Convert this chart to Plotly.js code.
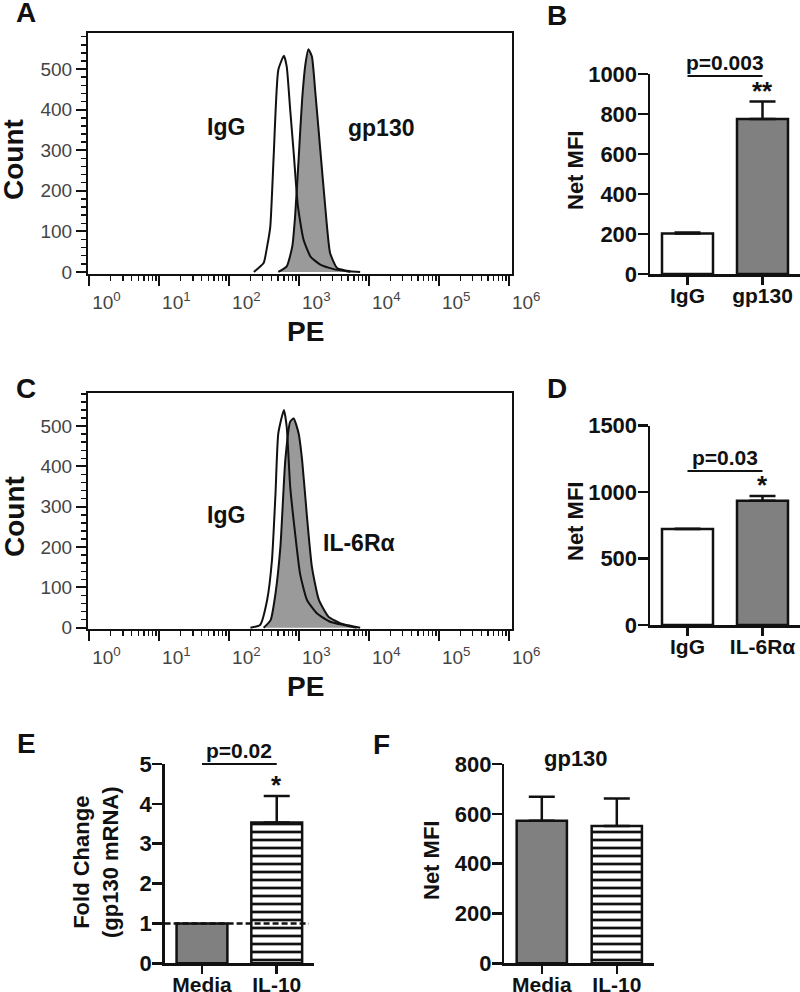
<!DOCTYPE html>
<html>
<head>
<meta charset="utf-8">
<script src="https://cdn.plot.ly/plotly-3.0.1.min.js"></script>
<style>html,body{margin:0;padding:0;background:#fff}#chart{width:800px;height:992px}</style>
</head>
<body>
<div id="chart"></div>
<script>
// ---------- data ----------
const peTickVals = [1, 10, 100, 1000, 10000, 100000, 1000000];
const peTickText = ['10<sup>0</sup>','10<sup>1</sup>','10<sup>2</sup>','10<sup>3</sup>','10<sup>4</sup>','10<sup>5</sup>','10<sup>6</sup>'];

// Panel A histograms (PE intensity, count)
const histA_IgG_pe    = [224, 309, 347, 385, 430, 501, 603, 661, 741, 832, 955, 1148, 1445, 1995, 3090, 5370];
const histA_IgG_count = [0, 22, 63, 112, 285, 498, 533, 506, 400, 293, 162, 80, 38, 18, 7, 0];
const histA_gp130_pe    = [501, 661, 794, 871, 977, 1096, 1230, 1349, 1514, 1698, 1995, 2344, 2754, 3467, 5370, 7413];
const histA_gp130_count = [0, 14, 63, 137, 277, 424, 515, 549, 531, 441, 301, 162, 47, 10, 2, 0];

// Panel C histograms
const histC_IgG_pe    = [200, 275, 347, 407, 457, 501, 603, 661, 741, 871, 1023, 1288, 1778, 2754, 4266, 6607];
const histC_IgG_count = [0, 7, 69, 168, 333, 482, 540, 498, 350, 234, 135, 69, 36, 15, 7, 0];
const histC_IL6_pe    = [309, 389, 457, 537, 631, 741, 832, 977, 1096, 1288, 1514, 1905, 2630, 3890, 5370, 7413];
const histC_IL6_count = [0, 19, 85, 201, 416, 511, 519, 482, 416, 275, 151, 69, 27, 11, 5, 0];

// Bar panels
const barB_cats = ['IgG', 'gp130'];
const barB_vals = [203, 775];
const barB_err  = [5, 87];

const barD_cats = ['IgG', 'IL-6Rα'];
const barD_vals = [722, 935];
const barD_err  = [3, 36];

const barE_cats = ['Media', 'IL-10'];
const barE_vals = [1.0, 3.53];
const barE_err  = [0, 0.67];

const barF_cats = ['Media', 'IL-10'];
const barF_vals = [572, 551];
const barF_err  = [97, 111];

const sigB = {text: 'p=0.003', y: 990, star: '**'};
const sigD = {text: 'p=0.03',  y: 1159, star: '*'};
const sigE = {text: 'p=0.02',  y: 5.0, star: '*'};
const refLineE = 1;

// ---------- helpers ----------
const W = 800, H = 992;
const FONT = 'Liberation Sans, Arial, Helvetica, sans-serif';
const xd = (a, b) => [a / W, b / W];
const yd = (top, bottom) => [1 - bottom / H, 1 - top / H];
const px = (x) => x / W;
const py = (y) => 1 - y / H;

function histX(domain, anchor) {
  return {
    domain: domain, anchor: anchor, type: 'log', range: [-0.02, 6.04],
    tickmode: 'array', tickvals: peTickVals, ticktext: peTickText,
    ticks: 'outside', ticklen: 10, tickwidth: 2, tickcolor: '#111',
    showline: true, linewidth: 2, linecolor: '#111', mirror: true,
    showgrid: false, zeroline: false, ticklabelshift: 17,
    tickfont: {family: FONT, size: 19, color: '#444'},
    minor: {ticks: 'outside', ticklen: 5, tickwidth: 1.5, tickcolor: '#111', dtick: 'D1', showgrid: false}
  };
}
function histY(domain, range, anchor) {
  return {
    domain: domain, anchor: anchor, range: range, tickmode: 'linear', tick0: 0, dtick: 100,
    ticks: 'outside', ticklen: 10, tickwidth: 2, tickcolor: '#111',
    showline: true, linewidth: 2, linecolor: '#111', mirror: true,
    showgrid: false, zeroline: false,
    tickfont: {family: FONT, size: 19, color: '#444'},
    minor: {ticks: 'outside', ticklen: 5, tickwidth: 1.5, tickcolor: '#111', dtick: 20, showgrid: false}
  };
}
function barX(domain, anchor) {
  return {
    domain: domain, anchor: anchor, type: 'category', range: [-0.5, 1.5],
    ticks: 'outside', ticklen: 8, tickwidth: 2.5, tickcolor: '#111',
    showline: true, linewidth: 2.5, linecolor: '#111',
    showgrid: false, zeroline: false, ticklabelstandoff: -7,
    tickfont: {family: FONT, size: 21, color: '#111', weight: 'bold'}
  };
}
function barY(domain, range, dtick, anchor) {
  return {
    domain: domain, anchor: anchor, range: range, tickmode: 'linear', tick0: 0, dtick: dtick,
    ticks: 'outside', ticklen: 10, tickwidth: 2.5, tickcolor: '#111',
    showline: true, linewidth: 2.5, linecolor: '#111',
    showgrid: false, zeroline: false, ticklabelstandoff: -4,
    tickfont: {family: FONT, size: 22, color: '#111', weight: 'bold'}
  };
}

function histTrace(xs, ys, filled, xa, ya) {
  return {
    type: 'scatter', mode: 'lines', x: xs, y: ys, xaxis: xa, yaxis: ya,
    line: {color: '#111', width: 2, shape: 'spline', smoothing: 0.5},
    fill: filled ? 'tozeroy' : 'none', fillcolor: '#9a9a9a',
    hoverinfo: 'skip', showlegend: false
  };
}
// one trace per bar so each can carry its own fill / pattern
function barTraces(cats, vals, errs, colors, patterns, xa, ya, width) {
  return cats.map((c, i) => {
    const t = {
      type: 'bar', x: [c], y: [vals[i]], xaxis: xa, yaxis: ya, width: width,
      marker: {color: colors[i], line: {color: '#111', width: 2.5}},
      error_y: {type: 'data', array: [errs[i]], arrayminus: [0], symmetric: false,
                color: '#111', thickness: 2.5, width: 13, visible: errs[i] > 0},
      showlegend: false, hoverinfo: 'skip'
    };
    if (patterns && patterns[i]) {
      t.marker.pattern = {shape: patterns[i], fgcolor: '#111', bgcolor: '#ffffff', size: 8, solidity: 0.34, fillmode: 'replace'};
    }
    return t;
  });
}

const traces = [
  histTrace(histA_gp130_pe, histA_gp130_count, true, 'x', 'y'),
  histTrace(histA_IgG_pe, histA_IgG_count, false, 'x', 'y'),
  ...barTraces(barB_cats, barB_vals, barB_err, ['#ffffff', '#808080'], null, 'x2', 'y2', 0.68),
  histTrace(histC_IL6_pe, histC_IL6_count, true, 'x3', 'y3'),
  histTrace(histC_IgG_pe, histC_IgG_count, false, 'x3', 'y3'),
  ...barTraces(barD_cats, barD_vals, barD_err, ['#ffffff', '#808080'], null, 'x4', 'y4', 0.68),
  ...barTraces(barE_cats, barE_vals, barE_err, ['#808080', '#ffffff'], ['', '-'], 'x5', 'y5', 0.68),
  ...barTraces(barF_cats, barF_vals, barF_err, ['#808080', '#ffffff'], ['', '-'], 'x6', 'y6', 0.67)
];

const ranges = {B: [0, 1000], D: [0, 1500], E: [0, 5], F: [0, 800]};

const layout = {
  width: W, height: H, margin: {l: 0, r: 0, t: 0, b: 0},
  paper_bgcolor: '#fff', plot_bgcolor: 'rgba(0,0,0,0)',
  font: {family: FONT, color: '#111'},
  showlegend: false, barmode: 'overlay',
  xaxis:  histX(xd(88, 512), 'y'),
  yaxis:  histY(yd(33, 274), [-5, 589], 'x'),
  xaxis2: barX(xd(650, 800), 'y2'),
  yaxis2: barY(yd(74, 274), ranges.B, 200, 'x2'),
  xaxis3: histX(xd(88, 512), 'y3'),
  yaxis3: histY(yd(393, 629), [-3, 582], 'x3'),
  xaxis4: barX(xd(650, 800), 'y4'),
  yaxis4: barY(yd(425.7, 625), ranges.D, 500, 'x4'),
  xaxis5: barX(xd(164.6, 314.1), 'y5'),
  yaxis5: barY(yd(764, 963.3), ranges.E, 1, 'x5'),
  xaxis6: barX(xd(504.3, 654.3), 'y6'),
  yaxis6: barY(yd(764, 963.3), ranges.F, 200, 'x6'),
  shapes: [],
  annotations: []
};

function addSig(sig, xa, ya, r, errTop) {
  layout.shapes.push({type: 'line', xref: xa, yref: ya + ' domain', x0: 0, x1: 1,
    y0: (sig.y - r[0]) / (r[1] - r[0]), y1: (sig.y - r[0]) / (r[1] - r[0]),
    line: {color: '#111', width: 2}});
  layout.annotations.push({xref: xa, yref: ya, x: 0.5, y: sig.y, text: sig.text, showarrow: false,
    yanchor: 'bottom', yshift: 0, font: {family: FONT, size: 21, color: '#111', weight: 'bold'}});
  layout.annotations.push({xref: xa, yref: ya, x: 1, y: errTop, text: sig.star, showarrow: false,
    yanchor: 'bottom', yshift: -6, font: {family: FONT, size: 26, color: '#111', weight: 'bold'}});
}
addSig(sigB, 'x2', 'y2', ranges.B, barB_vals[1] + barB_err[1]);
addSig(sigD, 'x4', 'y4', ranges.D, barD_vals[1] + barD_err[1]);
addSig(sigE, 'x5', 'y5', ranges.E, barE_vals[1] + barE_err[1]);

layout.shapes.push({type: 'line', xref: 'x5', yref: 'y5', x0: -0.5, x1: 1.43, y0: refLineE, y1: refLineE,
  line: {color: '#111', width: 2.5, dash: '6px,3px'}, layer: 'above'});

function txt(text, x, y, size, opts) {
  layout.annotations.push(Object.assign({xref: 'paper', yref: 'paper', x: px(x), y: py(y), text: text,
    showarrow: false, xanchor: 'center', yanchor: 'middle',
    font: {family: FONT, size: size, color: '#111', weight: 'bold'}}, opts || {}));
}
// panel letters
txt('A', 26, 13, 28); txt('B', 557, 15, 28); txt('C', 26, 388, 28);
txt('D', 557, 389, 28); txt('E', 26, 743, 28); txt('F', 381, 744, 28);
// histogram titles / labels
txt('Count', 14, 160, 28, {textangle: -90});
txt('PE', 305, 331, 28);
txt('Count', 14, 517, 28, {textangle: -90});
txt('PE', 305, 686, 28);
txt('IgG', 226, 127, 23); txt('gp130', 381, 128, 23);
txt('IgG', 226, 515, 23); txt('IL-6Rα', 359, 543, 23);
// bar panel titles
txt('Net MFI', 575, 171, 22, {textangle: -90});
txt('Net MFI', 575, 522, 22, {textangle: -90});
txt('Net MFI', 431, 860, 22, {textangle: -90});
txt('Fold Change<br>(gp130 mRNA)', 96, 862, 22, {textangle: -90});
txt('gp130', 576, 758, 22);

Plotly.newPlot('chart', traces, layout, {staticPlot: true, displayModeBar: false});
</script>
</body>
</html>
